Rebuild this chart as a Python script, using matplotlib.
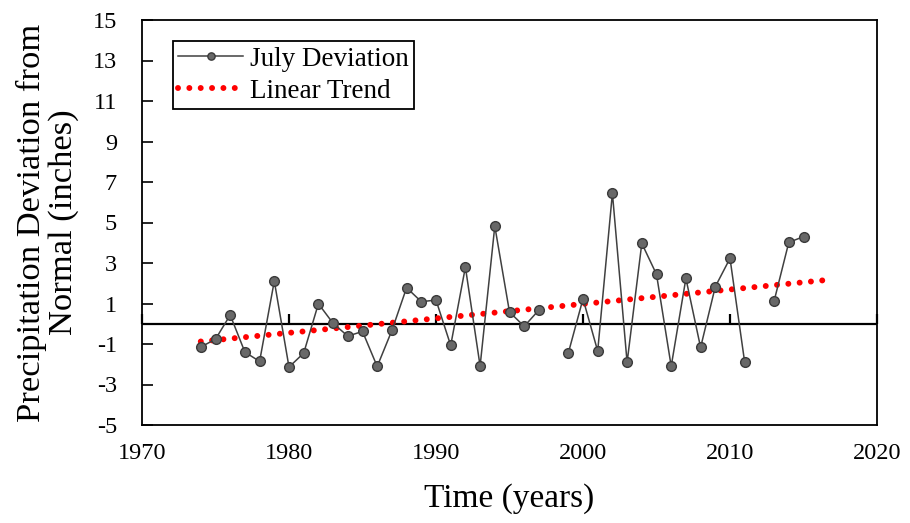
import numpy as np
import matplotlib
matplotlib.use("Agg")
import matplotlib.pyplot as plt

years = [1974, 1975, 1976, 1977, 1978, 1979, 1980, 1981, 1982, 1983, 1984, 1985,
         1986, 1987, 1988, 1989, 1990, 1991, 1992, 1993, 1994, 1995, 1996, 1997,
         1998, 1999, 2000, 2001, 2002, 2003, 2004, 2005, 2006, 2007, 2008, 2009,
         2010, 2011, 2012, 2013, 2014, 2015]
deviation = [-1.15, -0.76, 0.43, -1.40, -1.86, 2.11, -2.14, -1.45, 0.99, 0.02, -0.61, -0.38,
             -2.11, -0.33, 1.78, 1.09, 1.17, -1.07, 2.80, -2.09, 4.82, 0.58, -0.13, 0.68,
             np.nan, -1.45, 1.23, -1.35, 6.45, -1.91, 3.97, 2.44, -2.10, 2.24, -1.17, 1.83,
             3.23, -1.91, np.nan, 1.12, 4.02, 4.30]
trend_years = [1974, 2016.3]
x_ticks = [1970, 1980, 1990, 2000, 2010, 2020]
y_ticks = [-5, -3, -1, 1, 3, 5, 7, 9, 11, 13, 15]

plt.rcParams['font.family'] = ['Liberation Serif', 'DejaVu Serif']
plt.rcParams['axes.unicode_minus'] = False

fig = plt.figure(figsize=(9.1, 5.23), dpi=100)
ax = fig.add_axes([142/910, 1-425/523, 735/910, 405/523])

x = np.array(years, dtype=float)
y = np.array(deviation, dtype=float)
m = ~np.isnan(y)
slope, intercept = np.polyfit(x[m], y[m], 1)
tx = np.array(trend_years)
ty = slope * tx + intercept

ax.axhline(0, color='black', lw=1.6, zorder=1)
ax.plot(x, y, color='#404040', lw=1.1, marker='o', markersize=7,
        markerfacecolor='#686868', markeredgecolor='#3a3a3a', markeredgewidth=1.0,
        label='July Deviation', zorder=3)
ax.plot(tx, ty, color='#ff0000', lw=4.3, linestyle=(0, (0.001, 1.9)),
        dash_capstyle='round', label='Linear Trend', zorder=2)

ax.set_xlim(1970, 2020)
ax.set_ylim(-5, 15)
ax.set_xticks(x_ticks)
ax.set_yticks(y_ticks)
ax.tick_params(axis='x', length=0, labelsize=17.5, pad=13)
ax.tick_params(axis='y', direction='in', length=8, width=1.2, labelsize=17.5, pad=18)
for s in ax.spines.values():
    s.set_linewidth(1.3)

sec = ax.secondary_xaxis(0.25)
sec.set_xticks(x_ticks)
sec.tick_params(axis='x', direction='in', length=7, width=1.6, labelbottom=False,
                labeltop=False)
sec.spines['bottom'].set_visible(False)

ax.set_xlabel('Time (years)', fontsize=24, labelpad=14)
ax.set_ylabel('Precipitation Deviation from\nNormal (inches)', fontsize=24.8,
              linespacing=1.05, labelpad=10)

leg = ax.legend(loc='upper left', bbox_to_anchor=(0.042, 0.947), fontsize=19.5,
                frameon=True, fancybox=False, edgecolor='black', framealpha=1,
                borderpad=0.2, handlelength=2.4, handletextpad=0.25,
                labelspacing=0.26, markerscale=0.75, borderaxespad=0)
leg.get_frame().set_linewidth(1.3)

fig.savefig('out.png', dpi=100)
